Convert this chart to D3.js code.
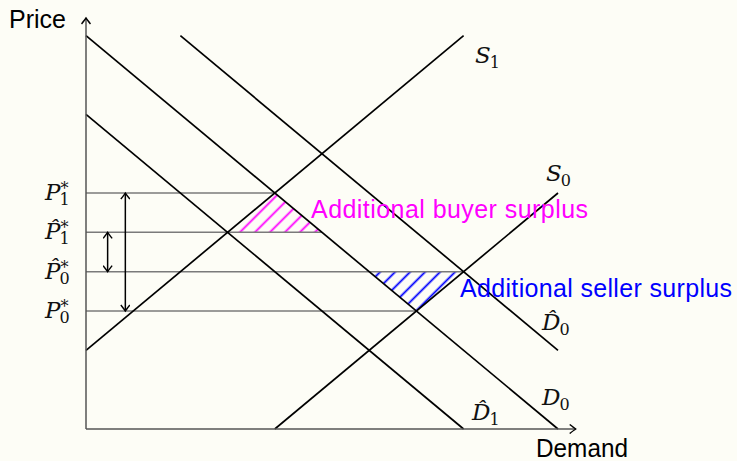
<!DOCTYPE html>
<html>
<head>
<meta charset="utf-8">
<script src="https://cdn.jsdelivr.net/npm/d3@7"></script>
<style>
  body { margin: 0; background: #fdfdf6; }
  svg { display: block; }
</style>
</head>
<body>
<svg width="737" height="461"></svg>
<script>
// Supply / demand curves, end points in data units (quantity, price)
const curveNames = ["D0", "D1hat", "D0hat", "S1", "S0"];
const curveX = [[0, 12], [0, 9.6], [2.4, 12], [0, 9.6], [4.8, 12]];
const curveY = [[10, 0], [8, 0], [10, 2], [2, 10], [0, 6]];

// Equilibrium prices and the quantity where each guide line stops
const priceLevels = [6, 5, 4, 3];
const priceEnds = [4.8, 6, 9.6, 8.4];
const priceSubs = ["1", "1", "0", "0"];
const priceHats = [false, true, true, false];

// Surplus triangles
const buyerArea = [[3.6, 5], [4.8, 6], [6, 5]];
const sellerArea = [[7.2, 4], [9.6, 4], [8.4, 3]];

// Double arrows between price levels
const arrowX = [1, 0.55];
const arrowFrom = [6, 5];
const arrowTo = [3, 4];

const svg = d3.select("svg");
const x = d3.scaleLinear().domain([0, 12]).range([86, 558]);
const y = d3.scaleLinear().domain([0, 10]).range([429, 35.7]);

const defs = svg.append("defs");

// hatch patterns (north east lines)
function hatch(id, color) {
    defs.append("pattern")
        .attr("id", id)
        .attr("patternUnits", "userSpaceOnUse")
        .attr("width", 10.6).attr("height", 10.6)
        .attr("patternTransform", "rotate(-45)")
        .append("line")
        .attr("x1", -1).attr("x2", 12)
        .attr("y1", 5.3).attr("y2", 5.3)
        .attr("stroke", color).attr("stroke-width", 1.8);
}
hatch("buyer", "#ff00ff");
hatch("seller", "#0000ff");

defs.append("marker")
    .attr("id", "tip")
    .attr("viewBox", "-8 -5 10 10")
    .attr("markerWidth", 10).attr("markerHeight", 10)
    .attr("markerUnits", "userSpaceOnUse")
    .attr("refX", 0).attr("refY", 0)
    .attr("orient", "auto-start-reverse")
    .append("path")
    .attr("d", "M-6,-4.5 Q-1.5,-1 0,0 Q-1.5,1 -6,4.5")
    .attr("fill", "none").attr("stroke", "#000").attr("stroke-width", 1.4);

const line = d3.line().x(d => x(d[0])).y(d => y(d[1]));

// surplus areas
svg.append("path").attr("d", line(buyerArea) + "Z").attr("fill", "url(#buyer)");
svg.append("path").attr("d", line(sellerArea) + "Z").attr("fill", "url(#seller)");

// price guide lines
svg.append("g").selectAll("line")
    .data(priceLevels)
    .join("line")
    .attr("x1", x(0)).attr("x2", (d, i) => x(priceEnds[i]))
    .attr("y1", d => y(d)).attr("y2", d => y(d))
    .attr("stroke", "#7a7a7a").attr("stroke-width", 1.5);

// curves
svg.append("g").selectAll("path")
    .data(curveNames)
    .join("path")
    .attr("d", (d, i) => line(curveX[i].map((v, j) => [v, curveY[i][j]])))
    .attr("fill", "none").attr("stroke", "#000").attr("stroke-width", 1.7);

// axes
svg.append("line")
    .attr("x1", x(0)).attr("y1", y(0)).attr("x2", x(12.45)).attr("y2", y(0))
    .attr("stroke", "#555").attr("stroke-width", 1.5).attr("marker-end", "url(#tip)");
svg.append("line")
    .attr("x1", x(0)).attr("y1", y(0)).attr("x2", x(0)).attr("y2", y(10.45))
    .attr("stroke", "#555").attr("stroke-width", 1.5).attr("marker-end", "url(#tip)");

// double arrows
svg.append("g").selectAll("line")
    .data(arrowX)
    .join("line")
    .attr("x1", d => x(d)).attr("x2", d => x(d))
    .attr("y1", (d, i) => y(arrowFrom[i])).attr("y2", (d, i) => y(arrowTo[i]))
    .attr("stroke", "#000").attr("stroke-width", 1.5)
    .attr("marker-start", "url(#tip)").attr("marker-end", "url(#tip)");

// math-style label: italic letter (with combining hat if needed), subscript and star
const serif = "'DejaVu Serif', 'Liberation Serif', serif";
function mathLabel(px, py, letter, sub, star, hat) {
    const t = svg.append("text")
        .attr("x", px).attr("y", py)
        .attr("font-family", serif)
        .attr("fill", "#111");
    const main = t.append("tspan")
        .attr("font-style", "italic")
        .attr("font-size", 23)
        .text(hat ? letter + "\u0302" : letter);
    const w = main.node().getComputedTextLength();
    t.append("tspan")
        .attr("x", px + w - 1).attr("y", py + 5)
        .attr("font-size", 16)
        .text(sub);
    if (star) {
        t.append("tspan")
            .attr("x", px + w).attr("y", py - 6)
            .attr("font-size", 16)
            .text("*");
    }
}

priceLevels.forEach((p, i) => mathLabel(45, y(p) + 7, "P", priceSubs[i], true, priceHats[i]));

mathLabel(475, 63, "S", "1", false, false);
mathLabel(546, 181, "S", "0", false, false);
mathLabel(542, 330, "D", "0", false, true);
mathLabel(542, 405, "D", "0", false, false);
mathLabel(472, 420, "D", "1", false, true);

// text labels
const sans = "'Liberation Sans', Arial, sans-serif";
svg.append("text").attr("x", 9).attr("y", 28)
    .attr("font-family", sans).attr("font-size", 25).text("Price");
svg.append("text").attr("x", 536).attr("y", 457)
    .attr("font-family", sans).attr("font-size", 25)
    .attr("textLength", 92).attr("lengthAdjust", "spacingAndGlyphs").text("Demand");
svg.append("text").attr("x", 311).attr("y", 218)
    .attr("font-family", sans).attr("font-size", 25).attr("fill", "#ff00ff")
    .attr("textLength", 277).attr("lengthAdjust", "spacing")
    .text("Additional buyer surplus");
svg.append("text").attr("x", 460).attr("y", 297)
    .attr("font-family", sans).attr("font-size", 25).attr("fill", "#0000ff")
    .attr("textLength", 272).attr("lengthAdjust", "spacing")
    .text("Additional seller surplus");
</script>
</body>
</html>
